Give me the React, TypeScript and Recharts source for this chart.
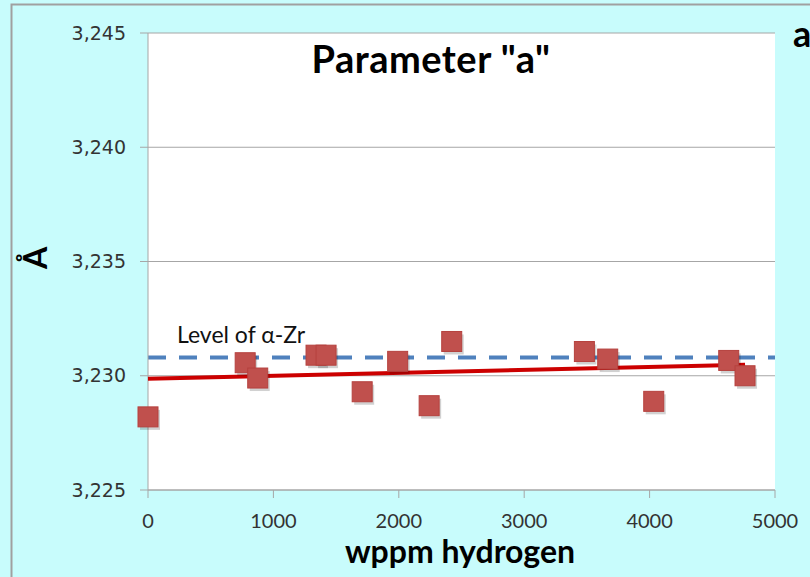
import React from 'react';
import { ScatterChart, Scatter, XAxis, YAxis, CartesianGrid, ReferenceLine } from 'recharts';

// measured points: hydrogen content (wppm) vs lattice parameter a (Å)
const HYDROGEN = [0, 775, 875, 1340, 1420, 1708, 1991, 2242, 2422, 3480, 3666, 4033, 4631, 4761];
const PARAM_A = [3.2282, 3.23057, 3.2299, 3.2309, 3.2309, 3.2293, 3.23063, 3.22869, 3.2315, 3.23106, 3.23073, 3.22888, 3.23067, 3.2300];

// linear trend, end points
const TREND_X = [0, 4761];
const TREND_Y = [3.22987, 3.23048];

const ALPHA_ZR_LEVEL = 3.2308;

const X_TICKS = [0, 1000, 2000, 3000, 4000, 5000];
const Y_TICKS = [3.225, 3.23, 3.235, 3.24, 3.245];

const points = HYDROGEN.map((x, i) => ({ x, y: PARAM_A[i] }));
const trend = TREND_X.map((x, i) => ({ x, y: TREND_Y[i] }));

const BG = '#c8fcfc';
const LABEL_FONT = 'Lato, "Open Sans", sans-serif';

const Square = (props: any) => {
    const { cx, cy } = props;
    const s = 20;
    return (
        <g>
            <rect x={cx - s / 2 + 2} y={cy - s / 2 + 3} width={s} height={s} fill="#000" opacity={0.18} />
            <rect x={cx - s / 2} y={cy - s / 2} width={s} height={s} fill="#c0504d" stroke="#b5413e" strokeWidth={1} />
        </g>
    );
};

const NoDot = () => <g />;

const fmtY = (v: number) => v.toFixed(3).replace('.', ',');

export default function App() {
    return (
        <div style={{ position: 'absolute', left: 0, top: 0, width: 810, height: 577, overflow: 'hidden', background: BG }}>
            <ScatterChart width={810} height={577} margin={{ top: 33, right: 35, left: 0, bottom: 0 }}>
                <CartesianGrid vertical={false} stroke="#a6a6a6" fill="#ffffff" />
                <XAxis
                    type="number" dataKey="x" domain={[0, 5000]} ticks={X_TICKS} height={87}
                    stroke="#a6a6a6" tickSize={8} tickMargin={16} interval={0}
                    tick={{ fontSize: 20, fontFamily: LABEL_FONT, fill: '#333' }}
                />
                <YAxis
                    type="number" dataKey="y" domain={[3.225, 3.245]} ticks={Y_TICKS} width={148}
                    stroke="#a6a6a6" tickSize={8} tickMargin={14} interval={0} tickFormatter={fmtY}
                    tick={{ fontSize: 19, fontFamily: '"DejaVu Sans", sans-serif', fill: '#333' }}
                />
                <ReferenceLine y={ALPHA_ZR_LEVEL} stroke="#4f81bd" strokeWidth={4} strokeDasharray="18 13" />
                <Scatter data={trend} line={{ stroke: '#cc0000', strokeWidth: 4 }} shape={NoDot} isAnimationActive={false} />
                <Scatter data={points} shape={Square} isAnimationActive={false} />
            </ScatterChart>
            <svg width={810} height={577} style={{ position: 'absolute', left: 0, top: 0, pointerEvents: 'none' }}>
                <path d="M11.5 577 V4.5 H810" fill="none" stroke="#a0a0a0" strokeWidth={2} />
                <text x={431} y={73} textAnchor="middle" fontFamily={LABEL_FONT} fontWeight={700} fontSize={38} letterSpacing={0.5} fill="#000">
                    Parameter "a"
                </text>
                <text x={793} y={47} fontFamily={LABEL_FONT} fontWeight={700} fontSize={36} fill="#000">a</text>
                <text x={177} y={343} fontFamily={LABEL_FONT} fontSize={23} fill="#111">Level of α-Zr</text>
                <text x={460} y={563} textAnchor="middle" fontFamily={LABEL_FONT} fontWeight={700} fontSize={32} fill="#000">
                    wppm hydrogen
                </text>
                <text x={0} y={0} transform="translate(47,258) rotate(-90)" textAnchor="middle" fontFamily={LABEL_FONT} fontWeight={700} fontSize={32} fill="#000">
                    Å
                </text>
            </svg>
        </div>
    );
}
